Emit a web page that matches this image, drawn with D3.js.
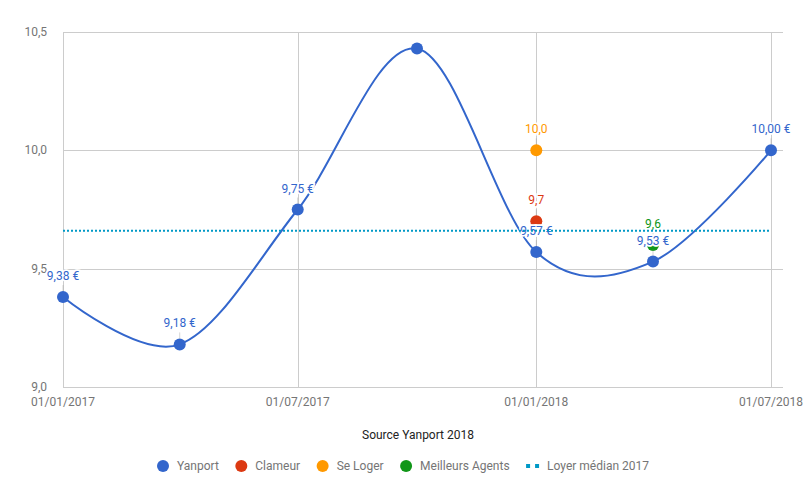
<!DOCTYPE html>
<html>
<head>
<meta charset="utf-8">
<script src="https://cdn.jsdelivr.net/npm/d3@7"></script>
<style>
  body { margin: 0; background: #fff; }
  svg { font-family: Roboto, "Noto Sans", sans-serif; }
</style>
</head>
<body>
<svg id="chart" width="807" height="499"></svg>
<script>
// données
const dates = ["2017-01-01", "2017-04-01", "2017-07-01", "2017-10-01", "2018-01-01", "2018-04-01", "2018-07-01"];
const yanport = [9.38, 9.18, 9.75, 10.43, 9.57, 9.53, 10.00];
const yanportLabels = ["9,38 €", "9,18 €", "9,75 €", null, "9,57 €", "9,53 €", "10,00 €"];
const others = [
  { name: "Clameur", date: "2018-01-01", value: 9.7, label: "9,7", color: "#dc3912" },
  { name: "Se Loger", date: "2018-01-01", value: 10.0, label: "10,0", color: "#ff9900" },
  { name: "Meilleurs Agents", date: "2018-04-01", value: 9.6, label: "9,6", color: "#109618" }
];
const medianValue = 9.66;
const yTicks = [9.0, 9.5, 10.0, 10.5];
const xTicks = ["2017-01-01", "2017-07-01", "2018-01-01", "2018-07-01"];
const legendItems = [
  { name: "Yanport", color: "#3366cc", type: "dot" },
  { name: "Clameur", color: "#dc3912", type: "dot" },
  { name: "Se Loger", color: "#ff9900", type: "dot" },
  { name: "Meilleurs Agents", color: "#109618", type: "dot" },
  { name: "Loyer médian 2017", color: "#0099c6", type: "dash" }
];

const parse = d3.timeParse("%Y-%m-%d");
const fmtDate = d3.timeFormat("%d/%m/%Y");
const fmtY = v => d3.format(".1f")(v).replace(".", ",");

const svg = d3.select("#chart");
const plotL = 63, plotR = 771, plotT = 32, plotB = 387;

const x = d3.scaleTime().domain([parse("2017-01-01"), parse("2018-07-01")]).range([plotL, plotR]);
const y = d3.scaleLinear().domain([9, 10.5]).range([plotB, plotT]);

// grille
svg.append("g").selectAll("line").data(yTicks).join("line")
  .attr("x1", plotL).attr("x2", 783)
  .attr("y1", d => Math.round(y(d)) + 0.5).attr("y2", d => Math.round(y(d)) + 0.5)
  .attr("stroke", "#cccccc").attr("stroke-width", 1);
svg.append("g").selectAll("line").data(xTicks).join("line")
  .attr("x1", d => Math.round(x(parse(d))) + 0.5).attr("x2", d => Math.round(x(parse(d))) + 0.5)
  .attr("y1", plotT).attr("y2", plotB)
  .attr("stroke", "#cccccc").attr("stroke-width", 1);

// étiquettes des axes
svg.append("g").selectAll("text").data(yTicks).join("text")
  .attr("x", 47).attr("y", d => y(d) + 4)
  .attr("text-anchor", "end").attr("font-size", 12).attr("fill", "#757575")
  .text(fmtY);
svg.append("g").selectAll("text").data(xTicks).join("text")
  .attr("x", d => x(parse(d))).attr("y", 406)
  .attr("text-anchor", "middle").attr("font-size", 12).attr("fill", "#757575")
  .text(d => fmtDate(parse(d)));

svg.append("text").attr("x", 418).attr("y", 439)
  .attr("text-anchor", "middle").attr("font-size", 12).attr("fill", "#222")
  .text("Source Yanport 2018");

// courbe Yanport
const pts = dates.map((d, i) => ({ date: parse(d), value: yanport[i], label: yanportLabels[i] }));
const line = d3.line().x(d => x(d.date)).y(d => y(d.value)).curve(d3.curveCardinal.tension(0));
svg.append("path").datum(pts)
  .attr("d", line).attr("fill", "none")
  .attr("stroke", "#3366cc").attr("stroke-width", 2);

// points
svg.append("g").selectAll("circle").data(pts).join("circle")
  .attr("cx", d => x(d.date)).attr("cy", d => y(d.value)).attr("r", 6)
  .attr("fill", "#3366cc");
svg.append("g").selectAll("circle").data(others).join("circle")
  .attr("cx", d => x(parse(d.date))).attr("cy", d => y(d.value)).attr("r", 6)
  .attr("fill", d => d.color);

// annotations
const ann = pts.filter(d => d.label).map(d => ({ px: x(d.date), py: y(d.value), label: d.label, color: "#3366cc" }))
  .concat(others.map(d => ({ px: x(parse(d.date)), py: y(d.value), label: d.label, color: d.color })));
svg.append("g").selectAll("line").data(ann).join("line")
  .attr("x1", d => d.px).attr("x2", d => d.px)
  .attr("y1", d => d.py - 6).attr("y2", d => d.py - 12)
  .attr("stroke", "#999").attr("stroke-opacity", 0.4);
svg.append("g").selectAll("text").data(ann).join("text")
  .attr("x", d => d.px).attr("y", d => d.py - 17)
  .attr("text-anchor", "middle").attr("font-size", 12)
  .attr("fill", d => d.color)
  .attr("stroke", "#fff").attr("stroke-width", 3.5).attr("paint-order", "stroke")
  .text(d => d.label);

// loyer médian
const medLine = d3.line().x(d => x(d)).y(() => y(medianValue));
svg.append("path")
  .attr("d", medLine([parse(xTicks[0]), parse(xTicks[xTicks.length - 1])]))
  .attr("fill", "none").attr("stroke", "#0099c6").attr("stroke-width", 2)
  .attr("stroke-dasharray", "2,2");

// légende
const lg = svg.append("g").attr("font-size", 12).attr("fill", "#757575");
let lx = 157;
legendItems.forEach(it => {
  let off = 20;
  if (it.type === "dot") {
    lg.append("circle").attr("cx", lx + 6).attr("cy", 466).attr("r", 6).attr("fill", it.color);
  } else {
    lg.append("rect").attr("x", lx).attr("y", 464).attr("width", 4).attr("height", 4).attr("fill", it.color);
    lg.append("rect").attr("x", lx + 9).attr("y", 464).attr("width", 4).attr("height", 4).attr("fill", it.color);
    off = 21;
  }
  const t = lg.append("text").attr("x", lx + off).attr("y", 470).text(it.name);
  lx += off + t.node().getComputedTextLength() + 16.5;
});
</script>
</body>
</html>
